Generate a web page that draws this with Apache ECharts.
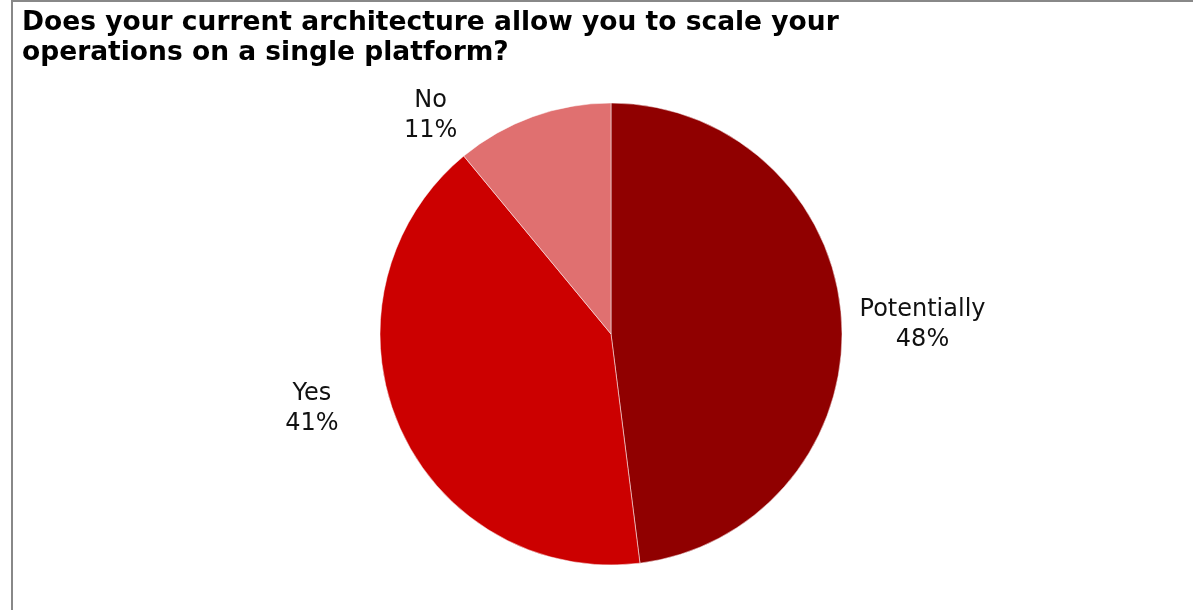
<!DOCTYPE html>
<html>
<head>
<meta charset="utf-8">
<script src="https://cdn.jsdelivr.net/npm/echarts@6/dist/echarts.min.js"></script>
<style>
  html, body { margin: 0; padding: 0; background: #fff; }
  #chart { width: 1193px; height: 610px; position: relative; }
  #frame { position: absolute; left: 11px; top: 0; width: 1182px; height: 610px;
           border-top: 2px solid #888; border-left: 2px solid #888; box-sizing: border-box; pointer-events: none; }
</style>
</head>
<body>
<div id="chart"></div>
<div id="frame"></div>
<script>
const titleText = 'Does your current architecture allow you to scale your\noperations on a single platform?';
const categories = ['Potentially', 'Yes', 'No'];
const values = [48, 41, 11];
const sliceColors = ['#900000', '#cc0000', '#e07070'];
const labelShift = [[-2, 6], [-5, -22], [-27, 10]];

const chart = echarts.init(document.getElementById('chart'), null, { renderer: 'canvas' });
chart.setOption({
  backgroundColor: '#ffffff',
  animation: false,
  title: {
    text: titleText,
    left: 22,
    top: 8,
    padding: 0,
    textStyle: {
      fontFamily: 'DejaVu Sans',
      fontWeight: 'bold',
      fontSize: 26.5,
      lineHeight: 30,
      color: '#000'
    }
  },
  series: [{
    type: 'pie',
    center: [611, 334],
    radius: 231,
    startAngle: 90,
    clockwise: true,
    avoidLabelOverlap: false,
    data: categories.map((c, i) => ({ name: c, value: values[i], itemStyle: { color: sliceColors[i] } })),
    itemStyle: { borderColor: '#ffffff', borderWidth: 0.5 },
    label: {
      show: true,
      position: 'outside',
      formatter: '{a|{b}}\n{a|{c}%}',
      rich: {
        a: {
          width: 132,
          align: 'center',
          fontFamily: 'DejaVu Sans',
          fontSize: 24,
          lineHeight: 30,
          color: '#111'
        }
      }
    },
    labelLine: { show: false, length: 12, length2: 0 },
    labelLayout: function (p) {
      const s = labelShift[p.dataIndex];
      return { dx: s[0], dy: s[1] };
    },
    emphasis: { disabled: true }
  }]
});
</script>
</body>
</html>
